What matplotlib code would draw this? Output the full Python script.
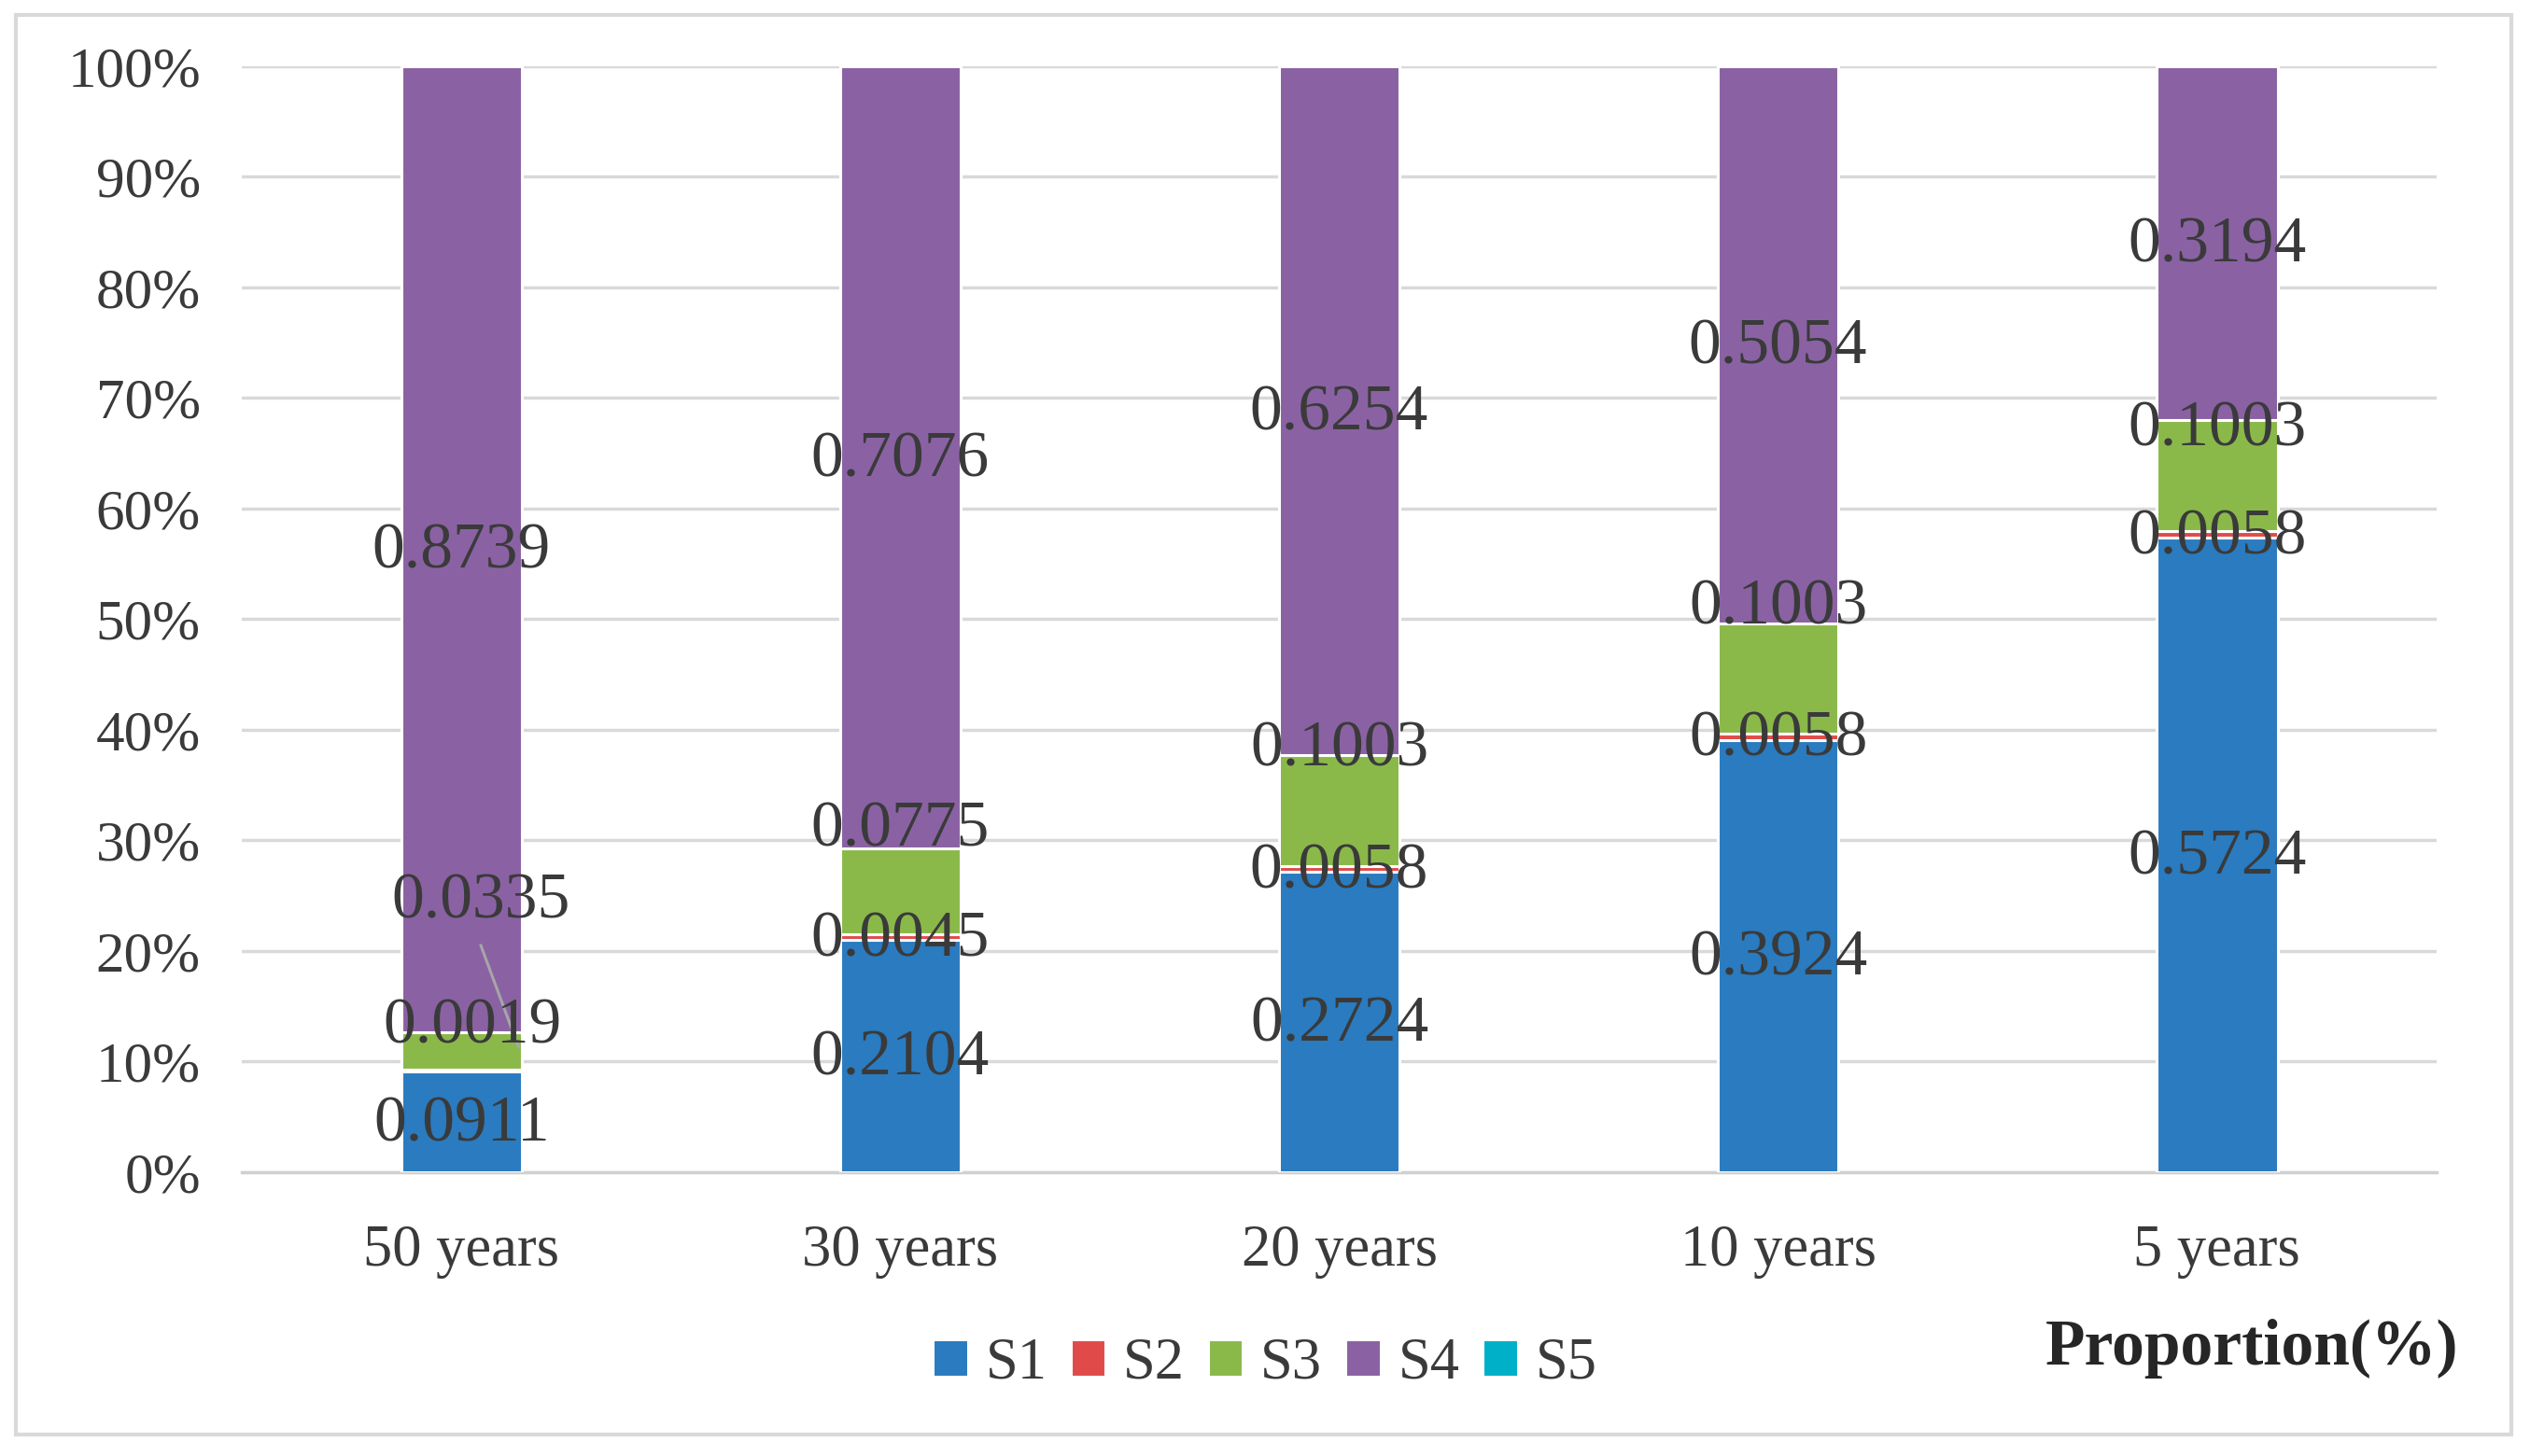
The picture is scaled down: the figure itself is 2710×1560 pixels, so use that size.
import numpy as np
import matplotlib.pyplot as plt
from matplotlib.patches import Rectangle

plt.rcParams['font.family'] = ['Liberation Serif', 'DejaVu Serif']

# data
categories = ['50 years', '30 years', '20 years', '10 years', '5 years']
series_names = ['S1', 'S2', 'S3', 'S4', 'S5']
s1 = [0.0911, 0.2104, 0.2724, 0.3924, 0.5724]
s2 = [0.0019, 0.0045, 0.0058, 0.0058, 0.0058]
s3 = [0.0335, 0.0775, 0.1003, 0.1003, 0.1003]
s4 = [0.8739, 0.7076, 0.6254, 0.5054, 0.3194]
s5 = [0.0, 0.0, 0.0, 0.0, 0.0]
colors = ['#2A7BBF', '#E04B49', '#8AB94A', '#8A62A3', '#00AFC8']

data = np.array([s1, s2, s3, s4, s5])
pct = data / data.sum(axis=0) * 100  # 100% stacked

fig = plt.figure(figsize=(27.1, 15.6), dpi=100)
ax = fig.add_axes([0.0957, 0.1949, 0.8673, 0.7596])

x = np.arange(len(categories))
bottom = np.zeros(len(categories))
for i, name in enumerate(series_names):
    ax.bar(x, pct[i], 0.276, bottom=bottom, color=colors[i], label=name,
           edgecolor='white', linewidth=2.2, zorder=3)
    bottom += pct[i]

txt = '#3A3A3A'
fs_lab = 50
s3_shift = [0, 2.0, 0.8, 1.6, -0.6]  # S3 labels were nudged above the segment top
cum = np.cumsum(pct, axis=0)
for j in range(len(categories)):
    for i in range(4):
        lo = cum[i][j] - pct[i][j]
        hi = cum[i][j]
        y = (lo + hi) / 2
        if i == 2:
            y = hi + s3_shift[j]
        xx = x[j]
        if j == 0 and i == 1:
            y = 13.4
            xx = x[j] + 0.025
        if j == 0 and i == 2:
            y = 24.7
            xx = x[j] + 0.045
            ax.plot([x[j] + 0.044, x[j] + 0.13], [20.5, 11.3], color='#A6A6A6',
                    lw=2.2, zorder=4)
        ax.text(xx, y - 0.3, '%.4f' % data[i][j], ha='center', va='center',
                fontsize=fs_lab, color=txt, zorder=5)

ax.set_xlim(-0.5, len(categories) - 0.5)
ax.set_ylim(0, 100)
ax.set_yticks(np.arange(0, 101, 10))
ax.set_yticklabels(['%d%%' % v for v in range(0, 101, 10)])
ax.set_xticks(x)
ax.set_xticklabels(categories)
ax.tick_params(axis='y', length=0, pad=32, labelsize=44, labelcolor=txt)
ax.tick_params(axis='x', length=0, pad=40, labelsize=45, labelcolor=txt)
ax.grid(axis='y', color='#D9D9D9', linewidth=2.5, zorder=0)
for s in ['top', 'right', 'left']:
    ax.spines[s].set_visible(False)
ax.spines['bottom'].set_color('#D0D0D0')
ax.spines['bottom'].set_linewidth(2.5)

handles, labels = ax.get_legend_handles_labels()
fig.legend(handles, labels, loc='center', bbox_to_anchor=(0.5, 0.063), ncol=5,
           frameon=False, fontsize=45, handlelength=0.6, handleheight=0.6,
           handletextpad=0.3, columnspacing=0.4, labelcolor=txt)

fig.text(0.89, 0.074, 'Proportion(%)', ha='center', va='center', fontsize=50,
         fontweight='bold', color='#262626')

fig.patches.append(Rectangle((0.0063, 0.0145), 0.9862, 0.975, transform=fig.transFigure,
                             fill=False, edgecolor='#D9D9D9', linewidth=3))

fig.savefig('out.png', dpi=100)
